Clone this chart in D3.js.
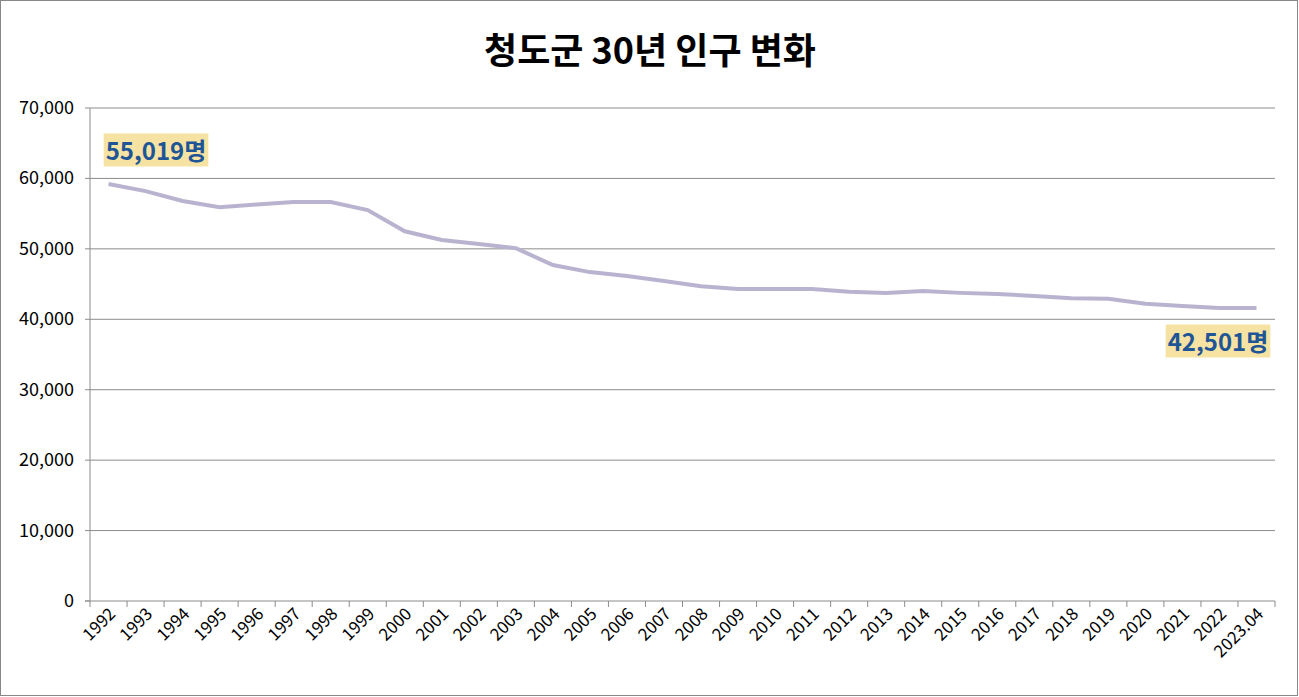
<!DOCTYPE html>
<html><head><meta charset="utf-8">
<script src="https://cdn.jsdelivr.net/npm/d3@7"></script>
<style>body{margin:0;background:#fff}</style></head>
<body><svg id="c" width="1299" height="697"></svg>
<script>
const categories=["1992","1993","1994","1995","1996","1997","1998","1999","2000","2001","2002","2003","2004","2005","2006","2007","2008","2009","2010","2011","2012","2013","2014","2015","2016","2017","2018","2019","2020","2021","2022","2023.04"];
const population=[59200,58200,56800,55900,56300,56650,56650,55500,52500,51250,50700,50100,47700,46700,46150,45450,44700,44300,44300,44300,43900,43750,44000,43750,43600,43300,43000,42900,42200,41900,41600,41600];
const yTicks=[0,10000,20000,30000,40000,50000,60000,70000];
const title="청도군 30년 인구 변화";
const labelFirst="55,019명", labelLast="42,501명";

const svg=d3.select("#c");
const font="'Noto Sans CJK KR','Noto Sans',sans-serif";
svg.append("rect").attr("x",0.5).attr("y",0.5).attr("width",1297).attr("height",695).attr("fill","#fff").attr("stroke","#888");
const L=90,R=1275,T=108,B=601;
const x=d3.scaleBand().domain(categories).range([L,R]);
const y=d3.scaleLinear().domain([0,70000]).range([B,T]);
svg.append("g").selectAll("line").data(yTicks.slice(1)).join("line")
 .attr("x1",L).attr("x2",R).attr("y1",d=>y(d)).attr("y2",d=>y(d)).attr("stroke","#8c8c8c");
svg.append("line").attr("x1",L).attr("x2",L).attr("y1",T).attr("y2",B).attr("stroke","#8c8c8c");
svg.append("line").attr("x1",L-5).attr("x2",R).attr("y1",B).attr("y2",B).attr("stroke","#8c8c8c");
svg.append("g").selectAll("line").data(categories.map((c,i)=>i).concat([categories.length])).join("line")
 .attr("x1",i=>L+i*x.step()).attr("x2",i=>L+i*x.step()).attr("y1",B).attr("y2",B+6).attr("stroke","#8c8c8c");
svg.append("g").selectAll("line.t").data(yTicks).join("line")
 .attr("x1",L-5).attr("x2",L).attr("y1",d=>y(d)).attr("y2",d=>y(d)).attr("stroke","#8c8c8c");
svg.append("g").selectAll("text").data(yTicks).join("text")
 .attr("x",L-16).attr("y",d=>y(d)+6).attr("text-anchor","end").attr("font-family",font).attr("font-size",18).attr("fill","#000")
 .text(d=>d3.format(",")(d));
svg.append("g").selectAll("text").data(categories).join("text")
 .attr("transform",d=>`translate(${x(d)+x.bandwidth()/2+8},${B+14}) rotate(-45)`)
 .attr("text-anchor","end").attr("font-family",font).attr("font-size",17).text(d=>d);
const line=d3.line().x((d,i)=>x(categories[i])+x.bandwidth()/2).y(d=>y(d));
svg.append("path").datum(population).attr("d",line).attr("fill","none").attr("stroke","#bab3cf").attr("stroke-width",4);
svg.append("text").attr("x",650).attr("y",64).attr("text-anchor","middle").attr("font-family",font).attr("font-weight","bold").attr("font-size",36).text(title);
function lab(t,cx,cy){
 const g=svg.append("g");
 const tx=g.append("text").attr("x",cx).attr("y",cy).attr("text-anchor","middle").attr("dominant-baseline","central")
  .attr("font-family",font).attr("font-weight","bold").attr("font-size",24).attr("fill","#1f5596").text(t);
 const b=tx.node().getBBox();
 g.insert("rect","text").attr("x",b.x-2).attr("y",b.y+2).attr("width",b.width+4).attr("height",b.height-2).attr("fill","#f6e3a3");
}
lab(labelFirst,156,149);
lab(labelLast,1218,340);
</script></body></html>
